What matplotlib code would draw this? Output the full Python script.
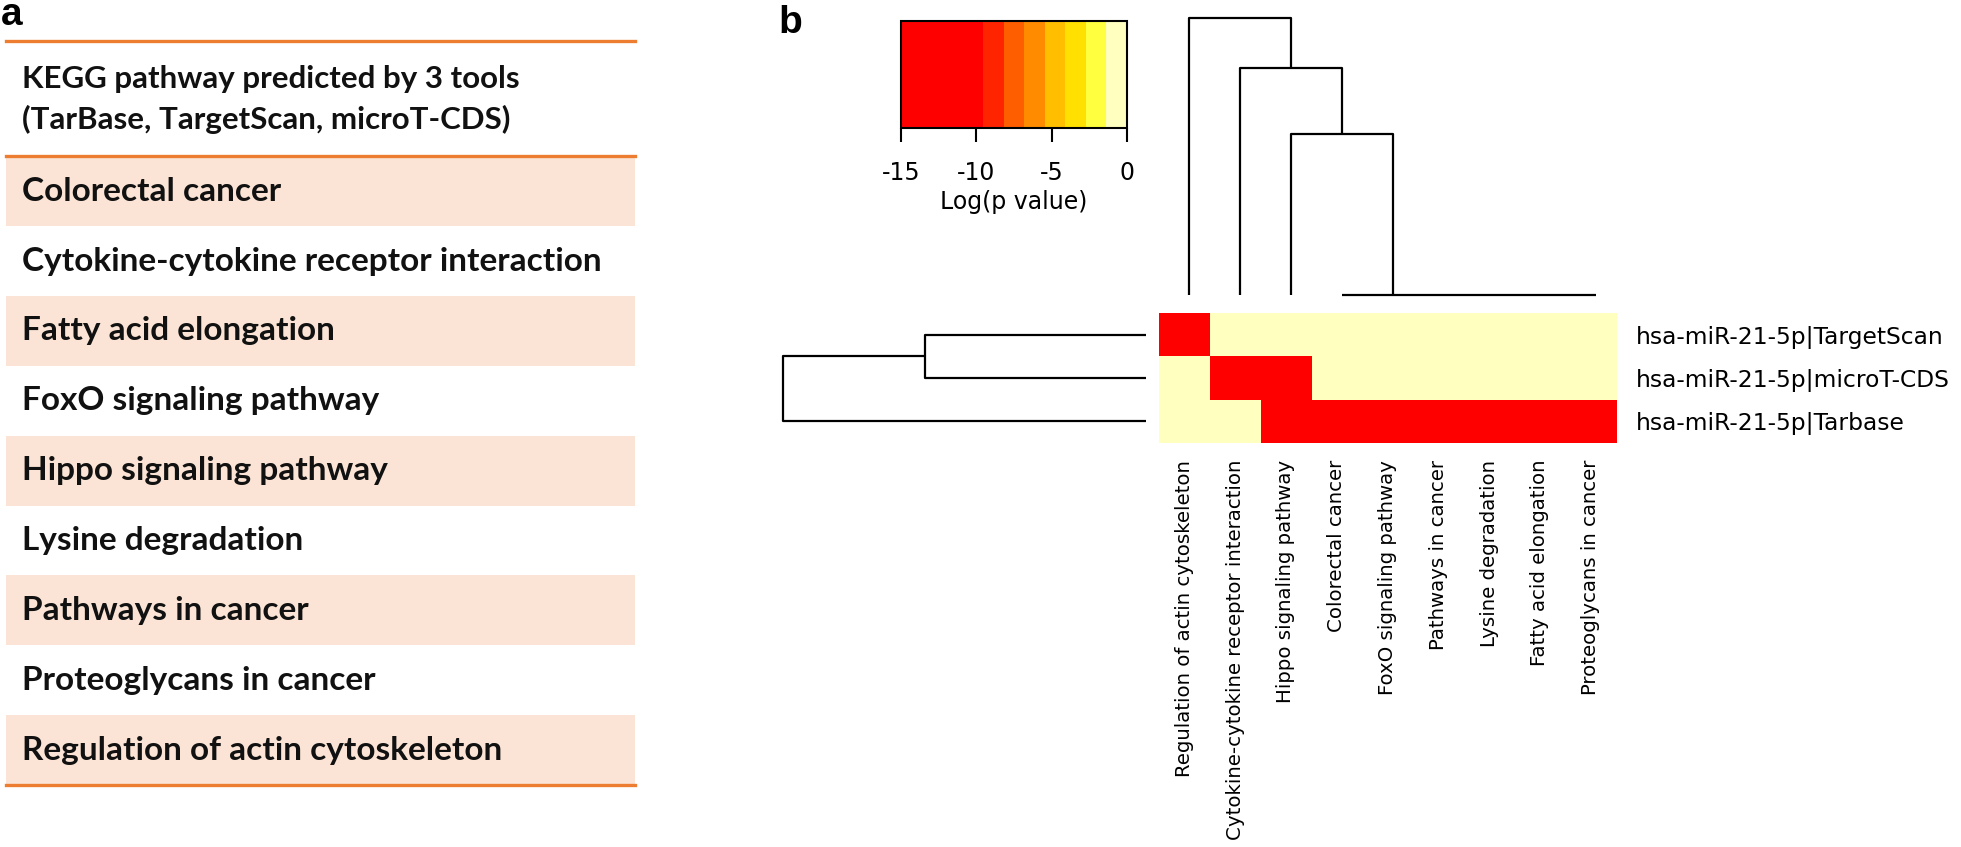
import numpy as np
import matplotlib
import matplotlib.pyplot as plt
from matplotlib.colors import ListedColormap, Normalize

plt.rcParams['axes.unicode_minus'] = False

W, H = 1961, 847

# ---- panel a: table of pathways ----
header = ['KEGG pathway predicted by 3 tools', '(TarBase, TargetScan, microT-CDS)']
pathways = ['Colorectal cancer', 'Cytokine-cytokine receptor interaction',
            'Fatty acid elongation', 'FoxO signaling pathway',
            'Hippo signaling pathway', 'Lysine degradation',
            'Pathways in cancer', 'Proteoglycans in cancer',
            'Regulation of actin cytoskeleton']

# ---- panel b: heatmap of log(p value) ----
heat_cols = ['Regulation of actin cytoskeleton', 'Cytokine-cytokine receptor interaction',
             'Hippo signaling pathway', 'Colorectal cancer', 'FoxO signaling pathway',
             'Pathways in cancer', 'Lysine degradation', 'Fatty acid elongation',
             'Proteoglycans in cancer']
heat_rows = ['hsa-miR-21-5p|TargetScan', 'hsa-miR-21-5p|microT-CDS', 'hsa-miR-21-5p|Tarbase']
logp_targetscan = [-15, 0, 0, 0, 0, 0, 0, 0, 0]
logp_microt = [0, -15, -15, 0, 0, 0, 0, 0, 0]
logp_tarbase = [0, 0, -15, -15, -15, -15, -15, -15, -15]

cbar_ticks = [-15, -10, -5, 0]
heat_palette = ['#FF0000', '#FF0000', '#FF0000', '#FF0000', '#FF2400', '#FF5E00',
                '#FF8C00', '#FFBF00', '#FFE000', '#FFFF40', '#FFFFBF']

# column dendrogram links: left x, right x, merge height, child heights
col_left = [3.5, 2.5, 1.5, 0.5]
col_right = [8.5, 4.5, 3.5, 2.5]
col_height = [0.0, 0.58, 0.82, 1.0]
col_left_h = [0.0, 0.0, 0.0, 0.0]
col_right_h = [0.0, 0.0, 0.58, 0.82]

# row dendrogram links
row_top = [0.5, 1.0]
row_bottom = [1.5, 2.5]
row_height = [0.61, 1.0]
row_top_h = [0.0, 0.61]
row_bottom_h = [0.0, 0.0]


def box(x0, y0, x1, y1):
    # pixel box (top-left origin) -> figure fraction rect
    return [x0 / W, 1 - y1 / H, (x1 - x0) / W, (y1 - y0) / H]


fig = plt.figure(figsize=(W / 100, H / 100), dpi=100)

orange = '#ED7D31'
band = '#FBE4D5'
table_font = 'Lato'

ax_a = fig.add_axes(box(6, 41, 635, 785))
ax_a.set_xlim(0, 1)
ax_a.set_ylim(9, -1.65)
ax_a.axis('off')
shaded = np.arange(0, len(pathways), 2)
ax_a.barh(shaded + 0.5, 1, height=1, left=0, color=band, edgecolor='none')
for yy in [-1.65, 0, len(pathways)]:
    ax_a.axhline(yy, color=orange, lw=2.4, clip_on=False)
for i, line in enumerate(header):
    ax_a.text(0.026, -1.1 + i * 0.58, line, va='center', ha='left',
              fontsize=22.5, family=table_font, fontweight='bold', color='#111111')
for i, name in enumerate(pathways):
    ax_a.text(0.026, i + 0.5, name, va='center', ha='left',
              fontsize=24, family=table_font, fontweight='bold', color='#111111')

fig.text(1 / W, 1 - 25 / H, 'a', fontsize=28, fontweight='bold',
         family='Liberation Sans', va='baseline', ha='left')
fig.text(778 / W, 1 - 33 / H, 'b', fontsize=28, fontweight='bold',
         family='Liberation Sans', va='baseline', ha='left')

# heatmap
cmap = ListedColormap(heat_palette)
norm = Normalize(vmin=-15, vmax=0)
data = np.array([logp_targetscan, logp_microt, logp_tarbase])
ax_h = fig.add_axes(box(1159, 313, 1616, 443))
ax_h.imshow(data, cmap=cmap, norm=norm, aspect='auto', interpolation='nearest',
            extent=(0, len(heat_cols), len(heat_rows), 0))
for s in ax_h.spines.values():
    s.set_visible(False)
ax_h.yaxis.tick_right()
ax_h.set_yticks(np.arange(len(heat_rows)) + 0.5)
ax_h.set_yticklabels(heat_rows, fontsize=16.8, family='DejaVu Sans')
ax_h.set_xticks(np.arange(len(heat_cols)) + 0.5)
ax_h.set_xticklabels(heat_cols, rotation=90, fontsize=14.2, family='DejaVu Sans', va='top')
ax_h.tick_params(axis='y', length=0, pad=14)
ax_h.tick_params(axis='x', length=0, pad=12)

# colour key
cax = fig.add_axes(box(901, 21, 1127, 128))
sm = matplotlib.cm.ScalarMappable(norm=norm, cmap=cmap)
cb = fig.colorbar(sm, cax=cax, orientation='horizontal')
cb.set_ticks(cbar_ticks)
cb.set_ticklabels([str(t) for t in cbar_ticks])
cb.outline.set_linewidth(1.5)
cax.tick_params(length=10, width=1.5, pad=14, labelsize=17)
cb.set_label('Log(p value)', fontsize=17, labelpad=3)

# column dendrogram (top)
ax_cd = fig.add_axes(box(1164, 18, 1621, 295))
ax_cd.set_xlim(0, len(heat_cols))
ax_cd.set_ylim(0, max(col_height))
ax_cd.axis('off')
for l, r, h, lh, rh in zip(col_left, col_right, col_height, col_left_h, col_right_h):
    ax_cd.plot([l, l, r, r], [lh, h, h, rh], color='black', lw=1.6, clip_on=False,
               solid_capstyle='butt')

# row dendrogram (left)
ax_rd = fig.add_axes(box(783, 313, 1146, 443))
ax_rd.set_xlim(max(row_height), 0)
ax_rd.set_ylim(len(heat_rows), 0)
ax_rd.axis('off')
for t, b, h, th, bh in zip(row_top, row_bottom, row_height, row_top_h, row_bottom_h):
    ax_rd.plot([th, h, h, bh], [t, t, b, b], color='black', lw=1.6, clip_on=False,
               solid_capstyle='butt')

fig.savefig('out.png', dpi=100, facecolor='white')
